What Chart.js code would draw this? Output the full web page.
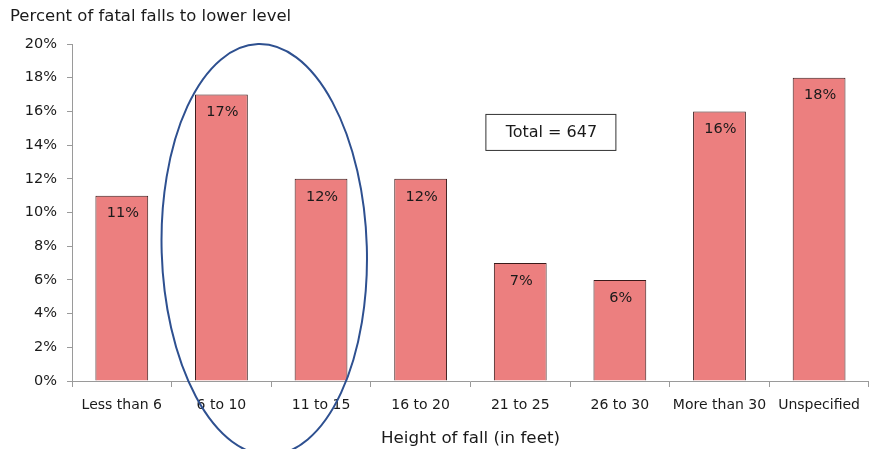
<!DOCTYPE html>
<html>
<head>
<meta charset="utf-8">
<script src="https://cdn.jsdelivr.net/npm/chart.js@4"></script>
<style>
  html, body { margin: 0; padding: 0; background: #fff; }
  #wrap { width: 870px; height: 449px; position: relative; }
</style>
</head>
<body>
<div id="wrap"><canvas id="chart"></canvas></div>
<script>
const categories = ['Less than 6', '6 to 10', '11 to 15', '16 to 20', '21 to 25', '26 to 30', 'More than 30', 'Unspecified'];
const percents = [11, 17, 12, 12, 7, 6, 16, 18];
const yTicks = [0, 2, 4, 6, 8, 10, 12, 14, 16, 18, 20];
const totalLabel = 'Total = 647';
const chartTitle = 'Percent of fatal falls to lower level';
const axisTitle = 'Height of fall (in feet)';

const FONT = "'DejaVu Sans', Verdana, sans-serif";
const TEXT = '#1a1a1a';

// labels inside bars, title, total box, ellipse
const extras = {
  id: 'extras',
  afterDatasetsDraw(chart) {
    const ctx = chart.ctx;
    const meta = chart.getDatasetMeta(0);
    const x = chart.scales.x, y = chart.scales.y;
    ctx.save();
    ctx.font = '14.5px ' + FONT;
    ctx.fillStyle = TEXT;
    ctx.textAlign = 'center';
    ctx.textBaseline = 'middle';
    meta.data.forEach((bar, i) => {
      ctx.fillText(percents[i] + '%', bar.x + 1, bar.y + 18);
    });

    // title
    ctx.font = '16.5px ' + FONT;
    ctx.textAlign = 'left';
    ctx.fillText(chartTitle, 10, 17);

    // total box
    const bx = x.getPixelForValue(3.65), by = y.getPixelForValue(15.85);
    ctx.fillStyle = '#fff';
    ctx.fillRect(bx, by, 130, 36);
    ctx.strokeStyle = '#333';
    ctx.lineWidth = 1;
    ctx.strokeRect(bx + 0.5, by + 0.5, 130, 36);
    ctx.fillStyle = TEXT;
    ctx.font = '16px ' + FONT;
    ctx.textAlign = 'center';
    ctx.fillText(totalLabel, bx + 66, by + 19);

    // ellipse around 6-10 and 11-15
    const cx = x.getPixelForValue(1.43);
    const cy = y.getPixelForValue(7.8);
    const rx = x.getPixelForValue(1.03) - x.getPixelForValue(0);
    const ry = y.getPixelForValue(0) - y.getPixelForValue(12.2);
    ctx.beginPath();
    ctx.ellipse(cx, cy, rx, ry, -0.03, 0, Math.PI * 2);
    ctx.strokeStyle = '#2e5090';
    ctx.lineWidth = 2;
    ctx.stroke();
    ctx.restore();
  }
};

new Chart(document.getElementById('chart'), {
  type: 'bar',
  data: {
    labels: categories,
    datasets: [{
      data: percents,
      backgroundColor: '#ec7f7f',
      borderColor: '#3a1a1a',
      borderWidth: 1,
      borderSkipped: 'bottom',
      barPercentage: 0.53,
      categoryPercentage: 1
    }]
  },
  options: {
    responsive: true,
    maintainAspectRatio: false,
    animation: false,
    layout: { padding: { top: 44, right: 0, left: 0, bottom: 0 } },
    plugins: { legend: { display: false }, tooltip: { enabled: false } },
    scales: {
      x: {
        afterFit: s => { s.height = 68; },
        border: { color: '#9a9a9a' },
        grid: { offset: true, drawOnChartArea: false, drawTicks: true, tickLength: 6, color: '#9a9a9a' },
        ticks: { color: TEXT, font: { family: FONT, size: 14 }, padding: 10, maxRotation: 0, autoSkip: false },
        title: { display: true, text: axisTitle, color: TEXT, font: { family: FONT, size: 16.7 }, padding: { top: 2, bottom: 0 } }
      },
      y: {
        min: 0, max: 20,
        afterFit: s => { s.width = 72; },
        afterBuildTicks: s => { s.ticks = yTicks.map(v => ({ value: v })); },
        border: { color: '#9a9a9a' },
        grid: { drawOnChartArea: false, drawTicks: true, tickLength: 5, color: '#9a9a9a' },
        ticks: { color: TEXT, font: { family: FONT, size: 14.5 }, padding: 10, callback: v => v + '%' }
      }
    }
  },
  plugins: [extras]
});
</script>
</body>
</html>
